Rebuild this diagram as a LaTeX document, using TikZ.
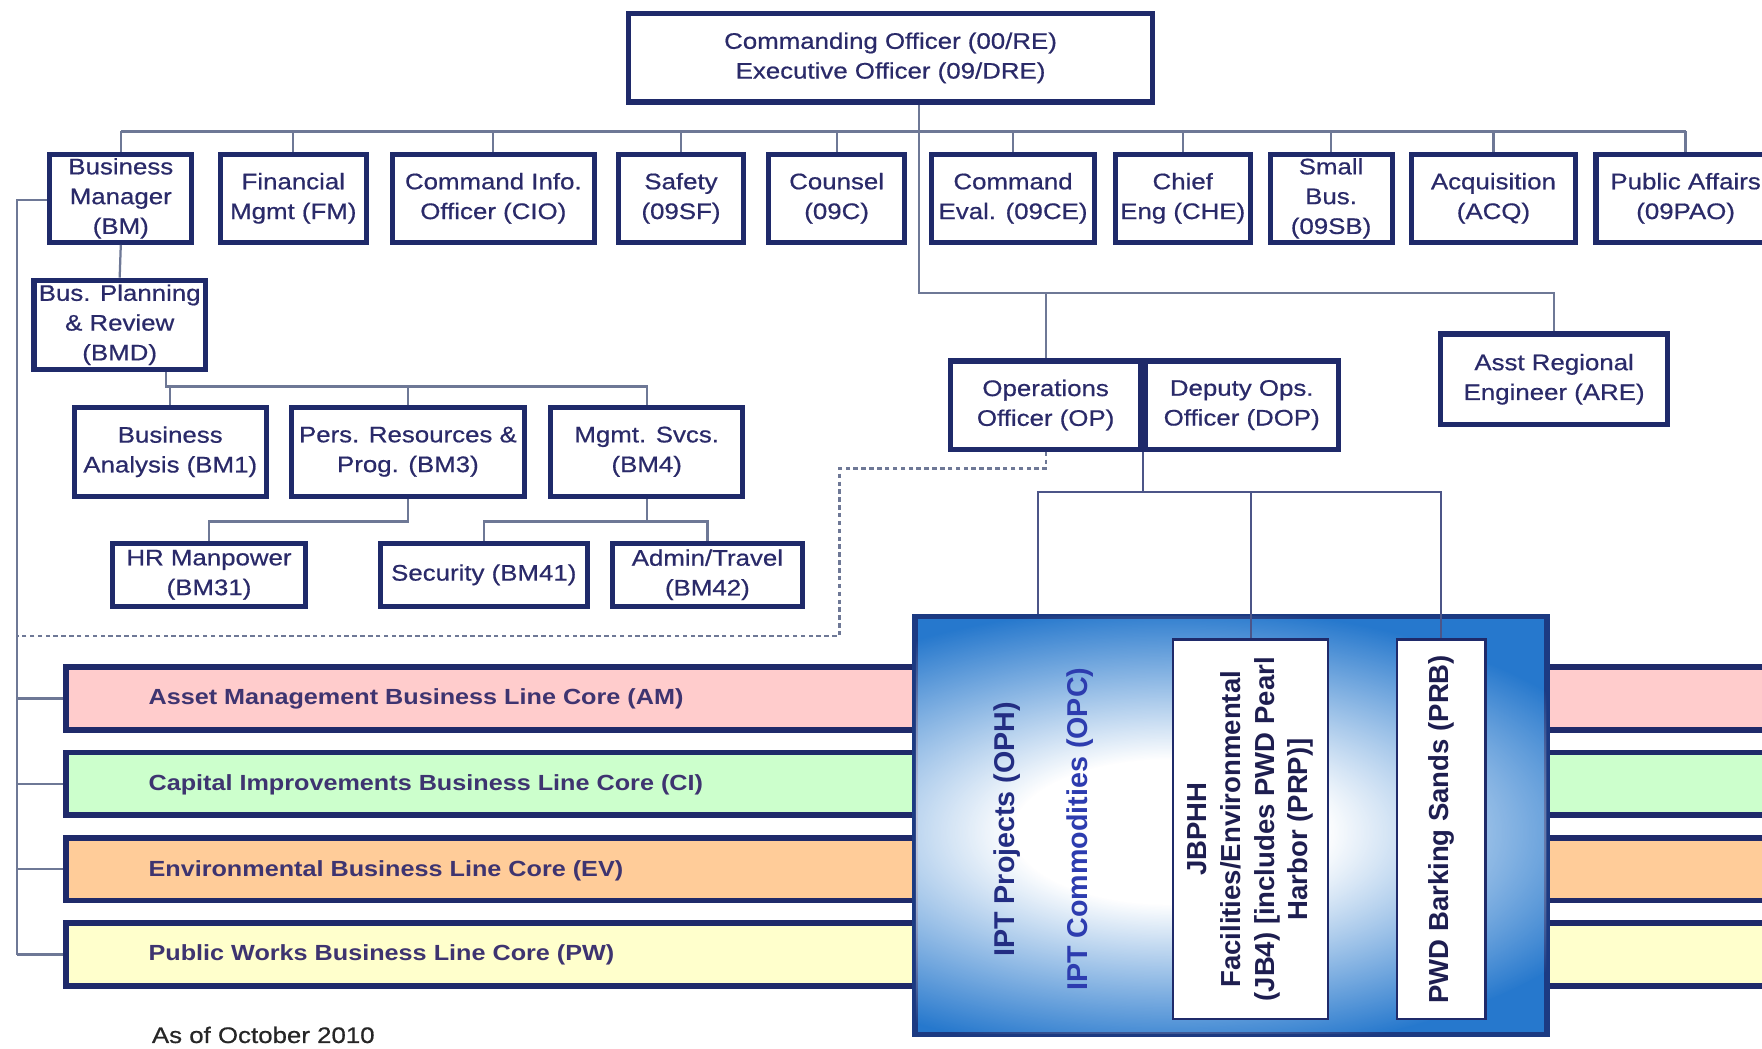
\documentclass[tikz,border=0pt]{standalone}
\usepackage{fontspec}
\setmainfont[FakeStretch=1.15]{Liberation Sans}
\newfontfamily\boxfont[FakeStretch=1.15, FakeBold=0.6]{Liberation Sans}
\newfontfamily\uprightsans{Liberation Sans}
\usetikzlibrary{fadings,calc}

% soft white glow: opaque core, linear falloff to the rim
\pgfdeclareradialshading{glowshade}{\pgfpointorigin}
  {color(0bp)=(white); color(8bp)=(white); color(25bp)=(black); color(50bp)=(black)}
\pgfdeclarefading{glowfade}{\pgfuseshading{glowshade}}

\definecolor{navy}{RGB}{31,42,106}
\definecolor{ink}{RGB}{42,42,105}
\definecolor{barink}{RGB}{62,52,112}
\definecolor{wirecol}{RGB}{110,120,150}
\definecolor{iptblue}{RGB}{38,120,205}
\definecolor{iptedge}{RGB}{28,58,130}
\definecolor{ophink}{RGB}{35,45,130}
\definecolor{opcink}{RGB}{45,60,175}
\definecolor{jbink}{RGB}{30,30,80}
\definecolor{amfill}{RGB}{255,204,204}
\definecolor{cifill}{RGB}{204,255,204}
\definecolor{evfill}{RGB}{255,204,153}
\definecolor{pwfill}{RGB}{255,255,204}

\begin{document}
\begin{tikzpicture}[x=1pt,y=-1pt,
  orgbox/.style={draw=navy, line width=4.5pt, fill=white, inner sep=0pt,
    align=center, text=ink, font=\boxfont\fontsize{20}{26.5}\selectfont},
  dims/.style 2 args={minimum width=#1pt-4.5pt, minimum height=#2pt-4.5pt},
  barbox/.style={draw=navy, line width=5pt, inner sep=0pt,
    minimum width=1559pt, minimum height=56pt},
  bartext/.style={anchor=west, inner sep=0pt, text=barink,
    font=\bfseries\fontsize{19.5}{24}\selectfont},
  sidebox/.style={draw=navy, line width=2pt, fill=white, inner sep=0pt},
  rottext/.style={rotate=90, inner sep=0pt, align=center,
    font=\uprightsans\bfseries\fontsize{25.5}{30}\selectfont},
  link/.style={draw=wirecol, line width=2pt},
  dashlink/.style={draw=wirecol, line width=2pt, dash pattern=on 4pt off 3pt}
]
\useasboundingbox (0,0) rectangle (1568,933);
\clip (0,0) rectangle (1568,933);
\fill[white] (0,0) rectangle (1568,933);

% command staff
\node[orgbox, dims={471}{83}] (co) at (792.5,51.5)
  {Commanding Officer (00/RE)\\Executive Officer (09/DRE)};
\node[orgbox, dims={131}{83}] (bm)  at (107.5,176.5) {Business\\Manager\\(BM)};
\node[orgbox, dims={134}{83}] (fm)  at (261,176.5)   {Financial\\Mgmt (FM)};
\node[orgbox, dims={184}{83}] (cio) at (439,176.5)   {Command Info.\\Officer (CIO)};
\node[orgbox, dims={116}{83}] (sf)  at (606,176.5)   {Safety\\(09SF)};
\node[orgbox, dims={125}{83}] (cou) at (744.5,176.5) {Counsel\\(09C)};
\node[orgbox, dims={149}{83}] (ce)  at (901.5,176.5) {Command\\Eval. (09CE)};
\node[orgbox, dims={125}{83}] (che) at (1052.5,176.5) {Chief\\Eng (CHE)};
\node[orgbox, dims={113}{83}] (sb)  at (1184.5,176.5) {Small\\Bus.\\(09SB)};
\node[orgbox, dims={150}{83}] (acq) at (1329,176.5)  {Acquisition\\(ACQ)};
\node[orgbox, dims={164}{83}] (pao) at (1500,176.5)  {Public Affairs\\(09PAO)};

% business manager branch
\node[orgbox, dims={157}{84}] (bmd) at (106.5,289) {Bus. Planning\\\& Review\\(BMD)};
\node[orgbox, dims={175}{84}] (bm1) at (151.5,402) {Business\\Analysis (BM1)};
\node[orgbox, dims={212}{84}] (bm3) at (363,402)   {Pers. Resources \&\\Prog. (BM3)};
\node[orgbox, dims={175}{84}] (bm4) at (575.5,402) {Mgmt. Svcs.\\(BM4)};
\node[orgbox, dims={176}{61}] (hr)  at (186,511.5)   {HR Manpower\\(BM31)};
\node[orgbox, dims={189}{61}] (sec) at (430.5,511.5) {Security (BM41)};
\node[orgbox, dims={173}{61}] (adm) at (629.5,511.5) {Admin/Travel\\(BM42)};

% operations
\node[orgbox, dims={173}{83}] (op)  at (930.5,360.5) {Operations\\Officer (OP)};
\node[orgbox, dims={176}{83}] (dop) at (1105,360.5)  {Deputy Ops.\\Officer (DOP)};
\node[orgbox, dims={206}{85}] (are) at (1383,337.5)  {Asst Regional\\Engineer (ARE)};

% business line cores
\node[barbox, fill=amfill] (am) at (838,621.5) {};
\node[barbox, fill=cifill] (ci) at (838,697.5) {};
\node[barbox, fill=evfill] (ev) at (838,773.5) {};
\node[barbox, fill=pwfill] (pw) at (838,849.5) {};
\node[bartext] (amt) at (132,622) {Asset Management Business Line Core (AM)};
\node[bartext] (cit) at (132,698) {Capital Improvements Business Line Core (CI)};
\node[bartext] (evt) at (132,775) {Environmental Business Line Core (EV)};
\node[bartext] (pwt) at (132,850) {Public Works Business Line Core (PW)};

% integrated product teams
\node[draw=iptedge, line width=5pt, fill=iptblue, inner sep=0pt,
      minimum width=562pt, minimum height=372pt] (ipt) at (1095.5,734.5) {};
\begin{scope}
  \clip ($(ipt.south west)+(3,-3)$) rectangle ($(ipt.north east)+(-3,3)$);
  \fill[white, path fading=glowfade] (1040,740) ellipse [x radius=430pt, y radius=200pt];
\end{scope}
\node[sidebox, minimum width=138pt, minimum height=338pt] (jb)  at (1113,738) {};
\node[sidebox, minimum width=79pt,  minimum height=338pt] (prb) at (1282.5,738) {};
\node[rottext, text=ophink] (oph) at (896,738) {IPT Projects (OPH)};
\node[rottext, text=opcink] (opc) at (961,738) {IPT Commodities (OPC)};
\node[rottext, text=jbink, font=\uprightsans\bfseries\fontsize{24.5}{30}\selectfont] (jbt) at (jb.center)
  {JBPHH\\Facilities/Environmental\\(JB4) [includes PWD Pearl\\Harbor (PRP)]};
\node[rottext, text=jbink, font=\uprightsans\bfseries\fontsize{24.5}{30}\selectfont] (prbt) at (prb.center)
  {PWD Barking Sands (PRB)};

\node[anchor=west, inner sep=0pt, text=black!85, font=\boxfont\fontsize{20}{24}\selectfont]
  (asof) at (135,921) {As of October 2010};

% staff connectors
\coordinate (bus) at (0,117);
\draw[link] (bm.north |- bus) -- (pao.north |- bus);
\foreach \n in {bm,fm,cio,sf,cou,ce,che,sb,acq,pao}
  \draw[link] (\n.north) -- (\n.north |- bus);

% operations connectors
\coordinate (opbus) at (818,261);
\draw[link] (co.south -| opbus) -- (opbus) -- (opbus -| are.north) -- (are.north);
\draw[link] (op.north |- opbus) -- (op.north);

% business manager connectors
\draw[link] (bm.south) -- (bmd.north);
\coordinate (bmdbus) at (148,344);
\draw[link] (bmd.south -| bmdbus) -- (bmdbus) -- (bmdbus -| bm4.north) -- (bm4.north);
\draw[link] (bm1.north |- bmdbus) -- (bm1.north);
\draw[link] (bm3.north |- bmdbus) -- (bm3.north);
\coordinate (lowbus) at (0,464);
\draw[link] (bm3.south) -- (bm3.south |- lowbus) -- (hr.north |- lowbus) -- (hr.north);
\draw[link] (bm4.south) -- (bm4.south |- lowbus);
\draw[link] (sec.north) -- (sec.north |- lowbus) -- (adm.north |- lowbus) -- (adm.north);

% business line spine
\coordinate (spine) at (15,178);
\draw[link] (spine -| bm.west) -- (spine) -- (spine |- pw.west);
\foreach \n in {am,ci,ev,pw}
  \draw[link] (spine |- \n.west) -- (\n.west);

% dotted link from operations to the business manager group
\coordinate (dturn) at (747,417);
\coordinate (dbase) at (747,566);
\draw[dashlink] (op.south) -- (op.south |- dturn) -- (dturn) -- (dbase) -- (dbase -| spine);

% deputy operations to the teams
\coordinate (tap) at (924,438);
\draw[link, draw=navy!80] (dop.south west) -- (dop.south west |- tap);
\draw[link, draw=navy!80] (tap |- ipt.north) -- (tap) -- (prb.north |- tap) -- (prb.north);
\draw[link, draw=navy!80] (jb.north |- tap) -- (jb.north);
\end{tikzpicture}
\end{document}
